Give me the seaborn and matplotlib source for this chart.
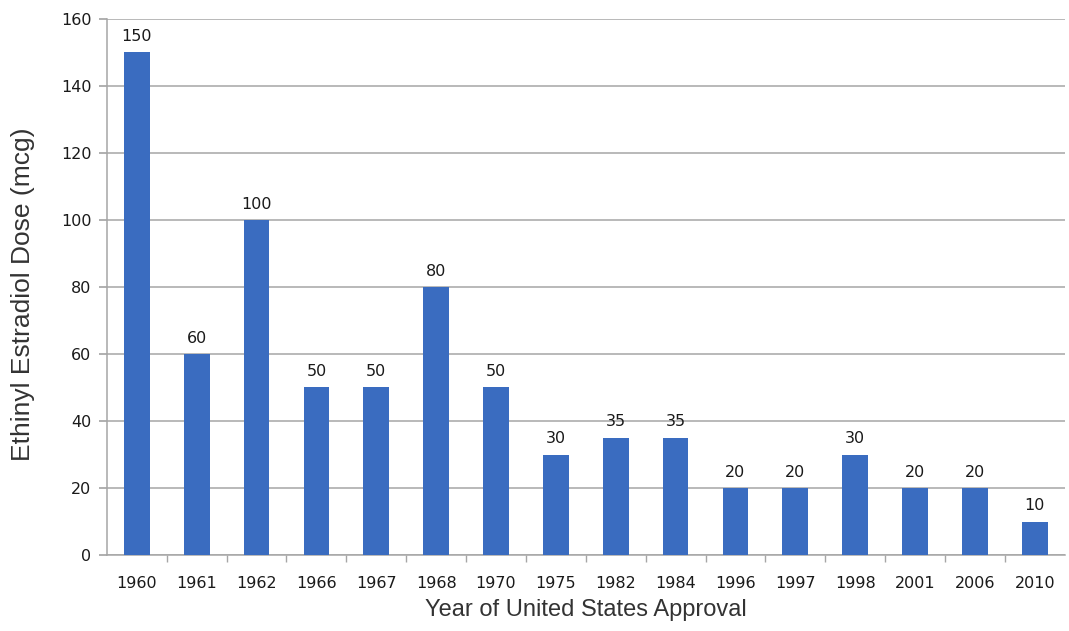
import matplotlib
matplotlib.use("Agg")
import matplotlib.pyplot as plt
import seaborn as sns
import pandas as pd

years = ["1960", "1961", "1962", "1966", "1967", "1968", "1970", "1975",
         "1982", "1984", "1996", "1997", "1998", "2001", "2006", "2010"]
doses = [150, 60, 100, 50, 50, 80, 50, 30, 35, 35, 20, 20, 30, 20, 20, 10]
y_ticks = [0, 20, 40, 60, 80, 100, 120, 140, 160]

df = pd.DataFrame({"year": years, "dose": doses})

sns.set_theme(style="white")
plt.rcParams["font.family"] = ["DejaVu Sans"]

fig = plt.figure(figsize=(10.69, 6.31), dpi=100)
ax = fig.add_axes([0.100, 0.1204, 0.896, 0.8496])

sns.barplot(data=df, x="year", y="dose", color="#3a6cc0", width=0.43,
            saturation=1, linewidth=0, ax=ax, zorder=3)

ax.set_ylim(0, 160)
ax.set_yticks(y_ticks)
ax.set_xlim(-0.5, len(years) - 0.5)
ax.yaxis.grid(True, color="#a6a6a6", linewidth=1.1, zorder=0)
ax.set_axisbelow(True)

for s in ["top", "right"]:
    ax.spines[s].set_visible(False)
for s in ["left", "bottom"]:
    ax.spines[s].set_color("#a6a6a6")
    ax.spines[s].set_linewidth(1.1)

ax.tick_params(axis="y", which="both", left=True, length=6, color="#a6a6a6",
               labelsize=11.5, labelcolor="#1a1a1a", pad=5)
# category separators as minor ticks between bars
ax.set_xticks([i + 0.5 for i in range(len(years) - 1)], minor=True)
ax.tick_params(axis="x", which="minor", bottom=True, length=5, color="#a6a6a6")
ax.tick_params(axis="x", which="major", bottom=False, labelsize=11.5,
               labelcolor="#1a1a1a", pad=9)

for i, v in enumerate(doses):
    ax.text(i, v + 2.5, str(v), ha="center", va="bottom", fontsize=11.5,
            color="#1a1a1a")

ax.set_xlabel("Year of United States Approval", fontsize=17,
              family="Liberation Sans", color="#333333", labelpad=6)
ax.set_ylabel("Ethinyl Estradiol Dose (mcg)", fontsize=19,
              family="Liberation Sans", color="#333333")
ax.yaxis.set_label_coords(-0.075, 0.487)

fig.savefig("out.png", dpi=100)
